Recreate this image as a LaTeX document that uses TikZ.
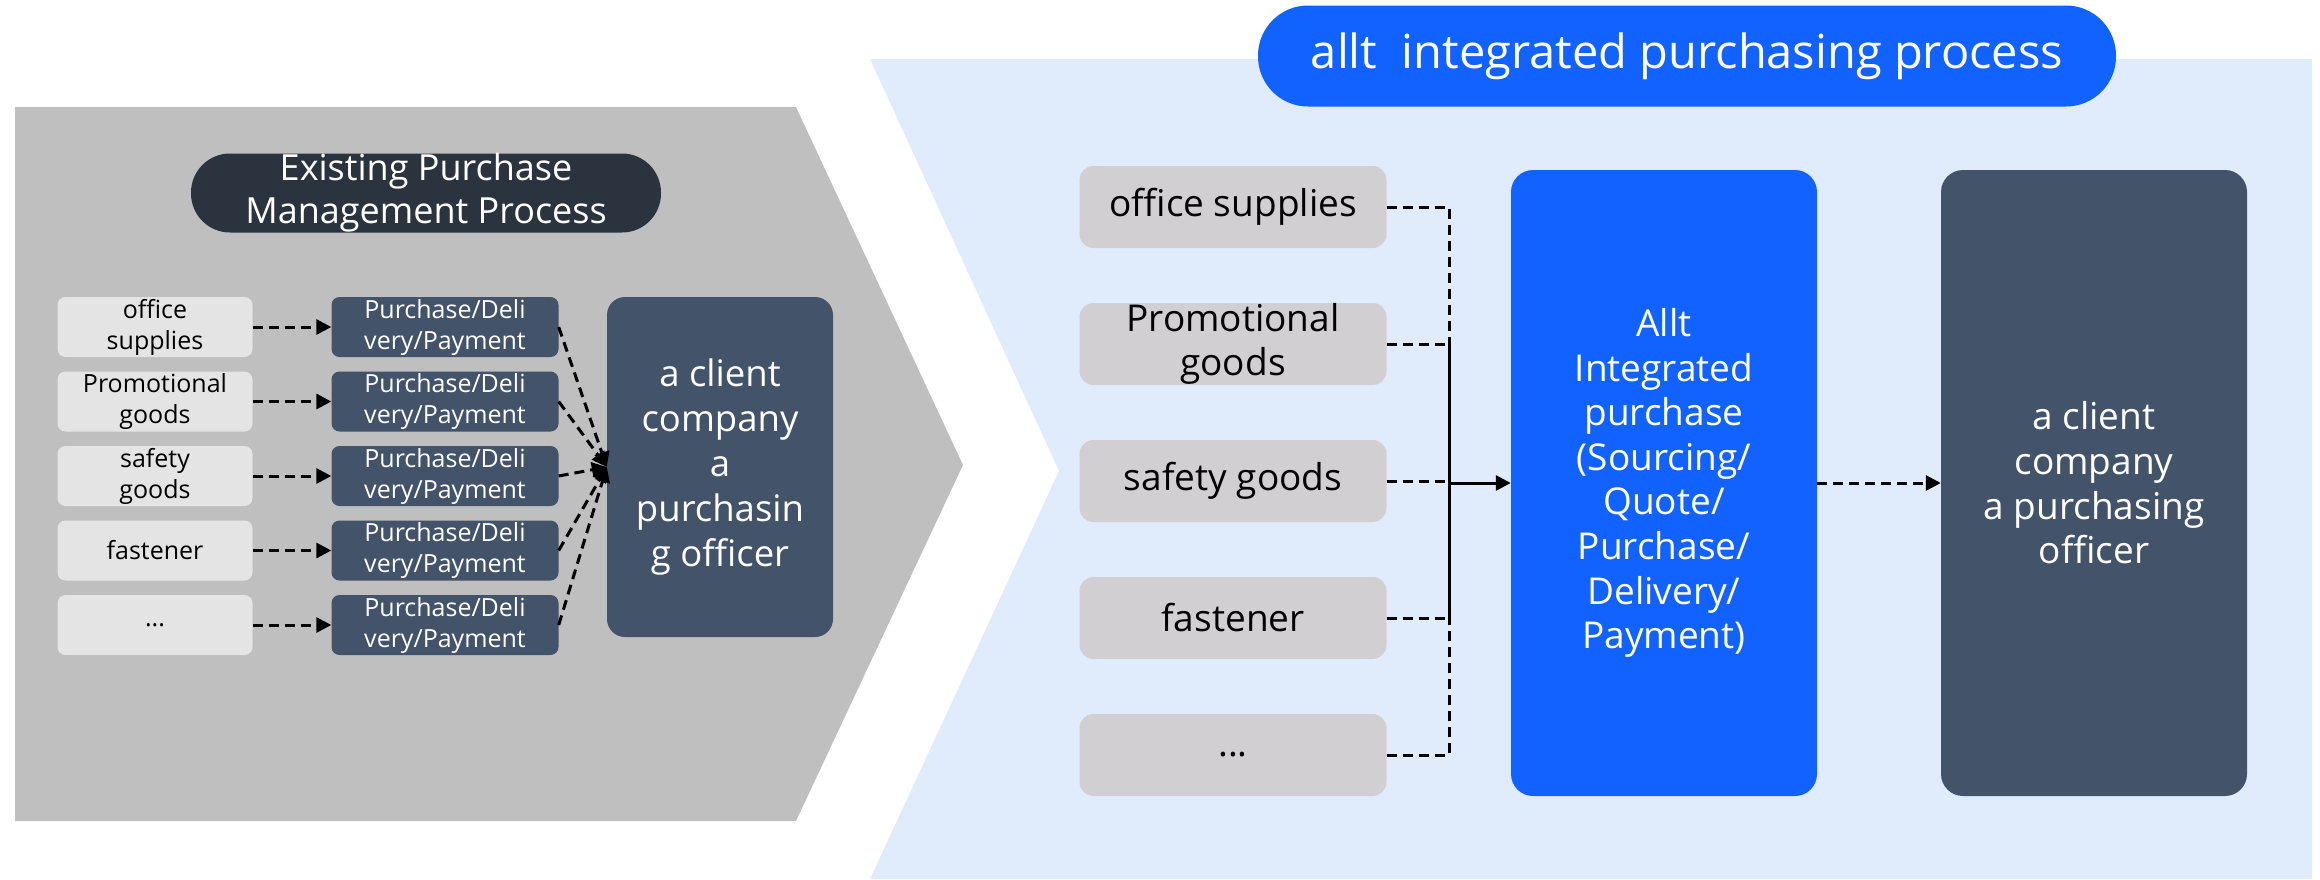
\documentclass[tikz,border=0pt]{standalone}
\usepackage{fontspec}
\setmainfont{Open Sans}
\usetikzlibrary{arrows.meta,positioning}

\definecolor{chevgray}{HTML}{BFBFBF}
\definecolor{paleblue}{HTML}{E0EBFC}
\definecolor{oldgray}{HTML}{E4E4E4}
\definecolor{newgray}{HTML}{D1CFD2}
\definecolor{slate}{HTML}{435369}
\definecolor{darkslate}{HTML}{2B343E}
\definecolor{alltblue}{HTML}{1162FF}

\tikzset{
    oldbox/.style={fill=oldgray, rounded corners=8pt, minimum width=195pt, minimum height=60pt,
        inner sep=0pt, align=center, font=\fontsize{25}{31}\selectfont},
    stepbox/.style={oldbox, fill=slate, text=white, minimum width=227pt},
    newbox/.style={fill=newgray, rounded corners=14pt, minimum width=307pt, minimum height=82pt,
        inner sep=0pt, align=center, font=\fontsize{37}{44}\selectfont},
    bigbox/.style={rounded corners=22pt, minimum width=306pt, minimum height=626pt,
        inner sep=0pt, text=white, align=center, font=\fontsize{37}{44.6}\selectfont},
    pill/.style={text=white, inner sep=0pt, align=center},
    dline/.style={dashed, dash pattern=on 10pt off 6pt, line width=3pt}
}

\begin{document}
\begin{tikzpicture}[x=1pt,y=-1pt,on grid,>={Triangle[length=15pt,width=15pt]}]
    \useasboundingbox (0,0) rectangle (2320,879);
    \fill[chevgray] (15,107) -- (796,107) -- (963,465) -- (796,821) -- (15,821) -- cycle;
    \fill[paleblue] (870,59) -- (2312,59) -- (2312,879) -- (870,879) -- (1059,471) -- cycle;

    \node[pill, fill=darkslate, rounded corners=39pt, minimum width=470pt, minimum height=79pt,
        font=\fontsize{36}{43}\selectfont] (t_old) at (426,193) {Existing Purchase\\Management Process};
    \node[pill, fill=alltblue, rounded corners=50pt, minimum width=858pt, minimum height=101pt,
        font=\fontsize{47}{50}\selectfont] (t_new) at (1687,56) {allt\ \ integrated purchasing process};

    \node[oldbox] (o_1) at (155,327) {office\\supplies};
    \node[oldbox] [below=74.5pt of o_1] (o_2) {Promotional\\goods};
    \node[oldbox] [below=74.5pt of o_2] (o_3) {safety\\goods};
    \node[oldbox] [below=74.5pt of o_3] (o_4) {fastener};
    \node[oldbox] [below=74.5pt of o_4] (o_5) {...};
    \node[stepbox] [right=290pt of o_1] (s_1) {Purchase/Deli\\very/Payment};
    \node[stepbox] [right=290pt of o_2] (s_2) {Purchase/Deli\\very/Payment};
    \node[stepbox] [right=290pt of o_3] (s_3) {Purchase/Deli\\very/Payment};
    \node[stepbox] [right=290pt of o_4] (s_4) {Purchase/Deli\\very/Payment};
    \node[stepbox] [right=290pt of o_5] (s_5) {Purchase/Deli\\very/Payment};
    \node[bigbox, fill=slate, rounded corners=18pt, minimum width=226pt, minimum height=340pt,
        font=\fontsize{36.5}{45}\selectfont] (c_old) at (720,467) {a client\\company\\a\\purchasin\\g officer};

    \node[newbox] (n_1) at (1233,207) {office supplies};
    \node[newbox] [below=137pt of n_1] (n_2) {Promotional\\goods};
    \node[newbox] [below=137pt of n_2] (n_3) {safety goods};
    \node[newbox] [below=137pt of n_3] (n_4) {fastener};
    \node[newbox] [below=137pt of n_4] (n_5) {...};
    \node[bigbox, fill=alltblue] (a_new) at (1664,483)
        {Allt\\Integrated\\purchase\\(Sourcing/\\Quote/\\Purchase/\\Delivery/\\Payment)};
    \node[bigbox, fill=slate] [right=430pt of a_new] (c_new) {a client\\company\\a purchasing\\officer};
    \coordinate (j) at (1449,483);

    \path[dline,->]
        (o_1) edge (s_1)
        (o_2) edge (s_2)
        (o_3) edge (s_3)
        (o_4) edge (s_4)
        (o_5) edge (s_5)
        (s_1.east) edge (c_old.west)
        (s_2.east) edge (c_old.west)
        (s_3.east) edge (c_old.west)
        (s_4.east) edge (c_old.west)
        (s_5.east) edge (c_old.west)
        (a_new) edge (c_new);
    \draw[dline] (n_1.east) -| (j);
    \draw[dline] (n_2.east) -| (j);
    \draw[dline] (n_3.east) -| (j);
    \draw[dline] (n_4.east) -| (j);
    \draw[dline] (n_5.east) -| (j);
    \draw[->, line width=3pt] (j) -- (a_new.west);
\end{tikzpicture}
\end{document}
